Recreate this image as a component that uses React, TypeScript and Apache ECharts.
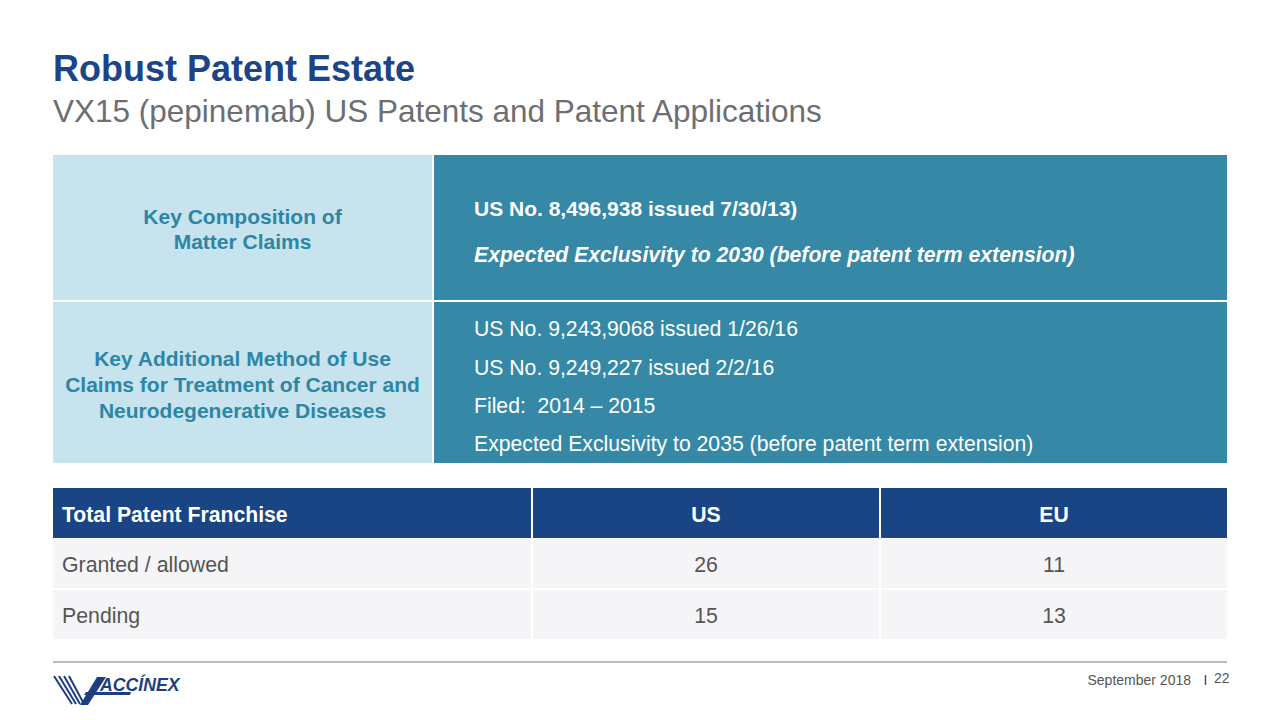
import React, { useEffect, useRef } from "react";
import * as echarts from "echarts";

const titleText = "Robust Patent Estate";
const subtitleText = "VX15 (pepinemab) US Patents and Patent Applications";

const claimCategories = [
  "Key Composition of\nMatter Claims",
  "Key Additional Method of Use\nClaims for Treatment of Cancer and\nNeurodegenerative Diseases",
];
const claimDetailsRow1 = [
  "US No. 8,496,938 issued 7/30/13)",
  "Expected Exclusivity to 2030 (before patent term extension)",
];
const claimDetailsRow2 = [
  "US No. 9,243,9068 issued 1/26/16",
  "US No. 9,249,227 issued 2/2/16",
  "Filed:  2014 \u2013 2015",
  "Expected Exclusivity to 2035 (before patent term extension)",
];

const franchiseHeaders = ["Total Patent Franchise", "US", "EU"];
const franchiseRows = ["Granted / allowed", "Pending"];
const usCounts = [26, 15];
const euCounts = [11, 13];

const footerDate = "September 2018";
const pageNumber = "22";

const FONT = "'Liberation Sans', Arial, Helvetica, sans-serif";

export default function App() {
  const ref = useRef<HTMLDivElement>(null);

  useEffect(() => {
    document.body.style.margin = "0";
    if (!ref.current) return;
    const chart = echarts.init(ref.current, undefined, { renderer: "svg" });

    const g: any[] = [];
    const txt = (
      text: string,
      x: number,
      y: number,
      size: number,
      fill: string,
      weight = "normal",
      align = "left",
      style = "normal",
      lineHeight?: number
    ) => {
      g.push({
        type: "text",
        x,
        y,
        style: {
          text,
          fill,
          font: `${style} ${weight} ${size}px ${FONT}`,
          align,
          verticalAlign: "middle",
          lineHeight: lineHeight || size * 1.2,
        },
      });
    };
    const rect = (x: number, y: number, w: number, h: number, fill: string) => {
      g.push({ type: "rect", shape: { x, y, width: w, height: h }, style: { fill } });
    };

    // Title
    txt(titleText, 53, 68, 36, "#1b4586", "bold");
    txt(subtitleText, 53, 111, 31.5, "#6d6e71");

    // Top table
    const leftX = 53, midX = 434, rightX = 1227;
    const rowYs = [[155, 300], [302, 463]];
    rowYs.forEach(([y0, y1]) => {
      rect(leftX, y0, midX - 2 - leftX, y1 - y0, "#c6e3ee");
      rect(midX, y0, rightX - midX, y1 - y0, "#3588a6");
    });
    txt(claimCategories[0], (leftX + midX - 2) / 2, 229, 21, "#2e86a5", "bold", "center", "normal", 25);
    txt(claimCategories[1], (leftX + midX - 2) / 2, 384, 21, "#2e86a5", "bold", "center", "normal", 26);

    txt(claimDetailsRow1[0], 474, 208, 21, "#ffffff", "bold");
    txt(claimDetailsRow1[1], 474, 254, 21.2, "#ffffff", "bold", "left", "italic");
    const r2y = [328, 367, 405, 443];
    claimDetailsRow2.forEach((t, i) => txt(t, 474, r2y[i], 21.2, "#ffffff"));

    // Bottom table
    const cols = [[53, 531], [533, 879], [881, 1227]];
    const hdrY = [488, 538];
    const bodyY = [[539, 588], [590, 639]];
    cols.forEach(([x0, x1], i) => {
      rect(x0, hdrY[0], x1 - x0, hdrY[1] - hdrY[0], "#1a4585");
      const cx = i === 0 ? x0 + 9 : (x0 + x1) / 2;
      txt(franchiseHeaders[i], cx, 514, 21.2, "#ffffff", "bold", i === 0 ? "left" : "center");
    });
    franchiseRows.forEach((name, r) => {
      const [y0, y1] = bodyY[r];
      cols.forEach(([x0, x1]) => rect(x0, y0, x1 - x0, y1 - y0, "#f5f5f7"));
      const cy = (y0 + y1) / 2 + 1;
      txt(name, 62, cy, 21.3, "#555555");
      txt(String(usCounts[r]), (cols[1][0] + cols[1][1]) / 2, cy, 21.3, "#555555", "normal", "center");
      txt(String(euCounts[r]), (cols[2][0] + cols[2][1]) / 2, cy, 21.3, "#555555", "normal", "center");
    });

    // Footer
    g.push({
      type: "line",
      shape: { x1: 53, y1: 662, x2: 1227, y2: 662 },
      style: { stroke: "#a6a6a6", lineWidth: 1.5 },
    });
    txt(footerDate, 1191, 680, 14, "#555555", "normal", "right");
    g.push({
      type: "line",
      shape: { x1: 1205.5, y1: 675, x2: 1205.5, y2: 685 },
      style: { stroke: "#555555", lineWidth: 1.5 },
    });
    txt(pageNumber, 1214, 678, 14, "#555555", "normal", "left");

    // Logo
    const navy = "#1d3f80";
    for (let i = 0; i < 4; i++) {
      g.push({
        type: "line",
        shape: { x1: 54 + i * 5, y1: 676, x2: 72 + i * 4, y2: 704 },
        style: { stroke: navy, lineWidth: 2 },
      });
    }
    g.push({
      type: "polygon",
      shape: { points: [[80, 705], [88, 705], [106, 677], [97, 677]] },
      style: { fill: navy },
    });
    g.push({
      type: "polygon",
      shape: { points: [[86, 692], [131, 692], [130, 695], [84, 695]] },
      style: { fill: navy },
    });
    g.push({
      type: "text",
      x: 100,
      y: 684,
      scaleX: 0.93,
      style: {
        text: "ACC\u00CDNEX",
        fill: navy,
        font: `italic bold 19px ${FONT}`,
        align: "left",
        verticalAlign: "middle",
      },
    });

    chart.setOption({
      animation: false,
      backgroundColor: "#ffffff",
      graphic: { elements: g },
    });

    return () => chart.dispose();
  }, []);

  return <div ref={ref} style={{ width: 1280, height: 720 }} />;
}
